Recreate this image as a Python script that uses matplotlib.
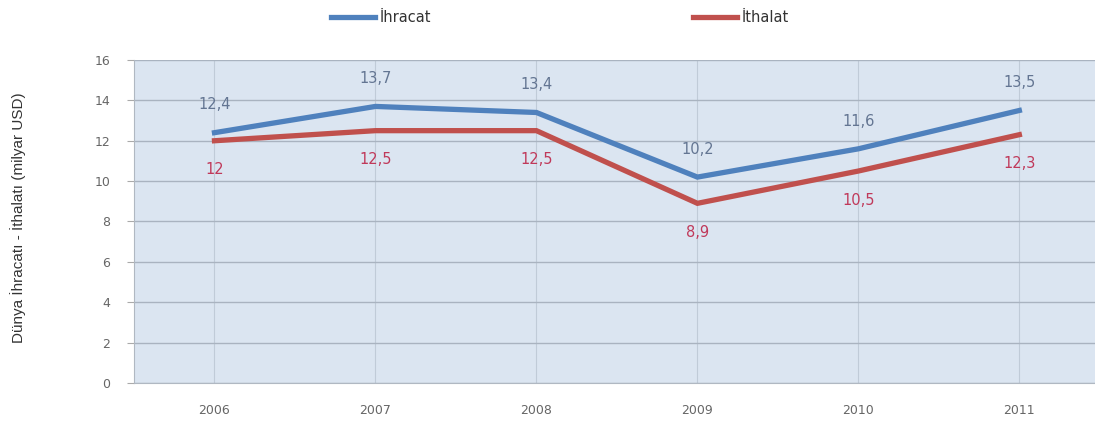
import numpy as np
import matplotlib.pyplot as plt

years = ["2006", "2007", "2008", "2009", "2010", "2011"]
ihracat = [12.4, 13.7, 13.4, 10.2, 11.6, 13.5]
ithalat = [12.0, 12.5, 12.5, 8.9, 10.5, 12.3]
ihracat_labels = ["12,4", "13,7", "13,4", "10,2", "11,6", "13,5"]
ithalat_labels = ["12", "12,5", "12,5", "8,9", "10,5", "12,3"]

blue = "#4f81bd"
red = "#c0504d"

fig = plt.figure(figsize=(10.95, 4.23), dpi=100)
ax = fig.add_axes([134 / 1095, 1 - 383 / 423, 1 - 134 / 1095, 323 / 423])
ax.set_facecolor("#dbe5f1")

x = np.arange(len(years))
ax.plot(x, ihracat, color=blue, lw=3.8, solid_joinstyle="miter", label="İhracat", zorder=3)
ax.plot(x, ithalat, color=red, lw=3.8, solid_joinstyle="miter", label="İthalat", zorder=3)

# value labels: exports above, imports below
for xi, v, s in zip(x, ihracat, ihracat_labels):
    ax.annotate(s, (xi, v), xytext=(0, 20), textcoords="offset points",
                ha="center", va="center", fontsize=10.5, color="#637592")
for xi, v, s in zip(x, ithalat, ithalat_labels):
    ax.annotate(s, (xi, v), xytext=(0, -21), textcoords="offset points",
                ha="center", va="center", fontsize=10.5, color="#c0395a")

ax.set_xlim(-0.5, 5.47)
ax.set_ylim(0, 16)
ax.set_yticks(range(0, 17, 2))
ax.set_xticks(x)
ax.set_xticklabels(years)
ax.tick_params(axis="both", colors="#666666", labelsize=9, length=0)
ax.tick_params(axis="x", pad=15)
ax.tick_params(axis="y", length=5, color="#aaaaaa", pad=12)
ax.yaxis.grid(True, color="#a9b3c0", lw=1)
ax.xaxis.grid(True, color="#c0cbd8", lw=0.8)
ax.set_axisbelow(True)
for side in ["top", "right"]:
    ax.spines[side].set_visible(False)
ax.spines["left"].set_color("#b0b8c2")
ax.spines["bottom"].set_color("#b0b8c2")

fig.text(18 / 1095, 1 - 218 / 423, "Dünya İhracatı - İthalatı (milyar USD)",
         rotation=90, ha="center", va="center", fontsize=11,
         family="Liberation Sans", color="#333333")

fig.legend(loc="center", bbox_to_anchor=(560 / 1095, 1 - 18 / 423), ncol=2,
           frameon=False, fontsize=10.5, handlelength=3, columnspacing=18,
           handletextpad=0.3, labelcolor="#333333")

fig.savefig("out.png", dpi=100)
